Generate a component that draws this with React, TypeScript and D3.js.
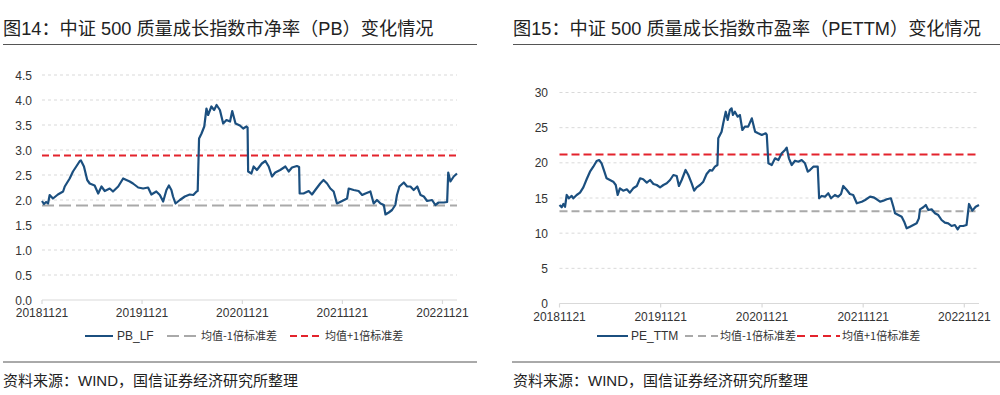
import React from "react";
import * as d3 from "d3";

const pbDates = [
  "2018-11-21","2018-11-28","2018-12-06","2018-12-13","2018-12-19","2018-12-31","2019-01-18","2019-02-06","2019-02-12","2019-03-02",
  "2019-03-14","2019-03-26","2019-04-08","2019-04-12","2019-04-23","2019-05-05","2019-05-14","2019-06-01","2019-06-14","2019-06-26",
  "2019-07-08","2019-07-26","2019-08-07","2019-08-26","2019-09-13","2019-09-25","2019-10-07","2019-10-19","2019-11-07","2019-11-25",
  "2019-12-13","2019-12-25","2020-01-12","2020-01-25","2020-02-06","2020-02-18","2020-02-27","2020-03-07","2020-03-13","2020-03-22",
  "2020-04-07","2020-04-25","2020-05-13","2020-05-26","2020-06-07","2020-06-11","2020-06-16","2020-06-25","2020-07-05","2020-07-13",
  "2020-07-19","2020-07-31","2020-08-10","2020-08-19","2020-08-31","2020-09-12","2020-09-24","2020-10-07","2020-10-15","2020-10-27",
  "2020-11-12","2020-11-24","2020-12-06","2020-12-10","2020-12-12","2020-12-24","2021-01-01","2021-01-13","2021-01-31","2021-02-13",
  "2021-02-25","2021-03-09","2021-03-21","2021-04-08","2021-04-27","2021-05-09","2021-05-21","2021-06-08","2021-06-16","2021-06-18",
  "2021-07-02","2021-07-21","2021-08-02","2021-08-14","2021-09-01","2021-09-13","2021-09-26","2021-10-08","2021-10-20","2021-11-01",
  "2021-11-20","2021-12-08","2021-12-14","2022-01-01","2022-01-19","2022-02-01","2022-02-13","2022-03-03","2022-03-15","2022-03-27",
  "2022-04-09","2022-04-21","2022-04-27","2022-05-09","2022-05-21","2022-06-02","2022-06-08","2022-06-17","2022-07-03","2022-07-15",
  "2022-07-27","2022-08-08","2022-08-21","2022-09-02","2022-09-14","2022-09-26","2022-10-14","2022-10-26","2022-11-07","2022-11-26",
  "2022-12-08","2022-12-12","2022-12-20","2023-01-01","2023-01-13"
];
const pbValues = [
  1.98,1.92,1.96,1.93,2.10,2.03,2.11,2.17,2.27,2.43,
  2.57,2.67,2.78,2.79,2.67,2.40,2.33,2.29,2.13,2.27,
  2.18,2.23,2.17,2.27,2.43,2.40,2.37,2.33,2.25,2.23,
  2.25,2.11,2.17,2.10,1.97,2.20,2.29,2.20,2.07,1.93,
  2.00,2.07,2.11,2.10,2.17,2.18,3.23,3.33,3.47,3.83,
  3.70,3.87,3.80,3.90,3.80,3.53,3.60,3.57,3.78,3.53,
  3.49,3.43,3.47,3.45,2.57,2.53,2.67,2.60,2.73,2.78,
  2.67,2.47,2.55,2.60,2.67,2.57,2.65,2.68,2.66,2.13,
  2.13,2.18,2.11,2.20,2.33,2.40,2.33,2.23,2.17,1.93,
  1.98,2.03,2.23,2.20,2.18,2.10,2.13,2.17,1.93,2.00,
  1.93,1.90,1.71,1.75,1.80,1.90,2.10,2.27,2.35,2.27,
  2.27,2.20,2.27,2.10,2.07,1.98,2.00,1.90,1.95,1.95,
  1.96,2.55,2.37,2.47,2.53
];
const pbUpper = 2.89;
const pbLower = 1.89;

const peDates = [
  "2018-11-21","2018-11-29","2018-12-05","2018-12-11","2018-12-17","2018-12-25","2019-01-04","2019-01-10","2019-01-22","2019-02-03",
  "2019-02-15","2019-02-27","2019-03-11","2019-03-23","2019-04-04","2019-04-13","2019-04-22","2019-05-02","2019-05-10","2019-05-22",
  "2019-06-03","2019-06-12","2019-06-19","2019-06-27","2019-07-09","2019-07-22","2019-08-02","2019-08-14","2019-08-27","2019-09-08",
  "2019-09-19","2019-10-02","2019-10-14","2019-10-26","2019-11-07","2019-11-19","2019-12-01","2019-12-13","2019-12-25","2020-01-06",
  "2020-01-18","2020-01-26","2020-02-05","2020-02-19","2020-02-29","2020-03-12","2020-03-21","2020-03-30","2020-04-11","2020-04-23",
  "2020-05-05","2020-05-17","2020-05-25","2020-06-04","2020-06-13","2020-06-16","2020-06-28","2020-07-04","2020-07-13","2020-07-20",
  "2020-07-28","2020-08-03","2020-08-08","2020-08-15","2020-08-25","2020-09-02","2020-09-11","2020-09-20","2020-10-02","2020-10-15",
  "2020-10-27","2020-11-07","2020-11-20","2020-12-04","2020-12-08","2020-12-14","2020-12-26","2021-01-07","2021-01-19","2021-01-31",
  "2021-02-12","2021-02-18","2021-02-26","2021-03-08","2021-03-20","2021-04-01","2021-04-13","2021-04-25","2021-05-05","2021-05-13",
  "2021-05-25","2021-06-10","2021-06-15","2021-06-24","2021-07-06","2021-07-18","2021-07-28","2021-08-11","2021-08-23","2021-09-02",
  "2021-09-10","2021-09-23","2021-10-04","2021-10-16","2021-10-29","2021-11-16","2021-11-28","2021-12-16","2021-12-28","2022-01-09",
  "2022-01-21","2022-02-02","2022-02-14","2022-03-01","2022-03-10","2022-03-16","2022-03-28","2022-04-09","2022-04-18","2022-04-27",
  "2022-05-09","2022-05-21","2022-06-02","2022-06-10","2022-06-14","2022-06-26","2022-07-05","2022-07-14","2022-07-26","2022-08-07",
  "2022-08-19","2022-08-31","2022-09-12","2022-09-24","2022-10-06","2022-10-18","2022-10-28","2022-11-05","2022-11-17","2022-11-29",
  "2022-12-08","2022-12-20","2023-01-01","2023-01-13"
];
const peValues = [
  14.0,13.68,14.15,13.76,15.43,14.96,15.29,14.96,15.43,15.76,
  16.52,17.66,18.74,19.45,20.26,20.4,19.93,18.74,17.8,17.56,
  17.32,16.85,15.43,16.38,16.04,16.24,15.76,16.38,16.71,17.8,
  17.66,17.18,17.56,16.99,16.85,16.52,16.85,17.09,17.56,18.27,
  18.13,16.71,17.56,18.98,18.27,17.09,16.04,16.52,16.85,17.32,
  18.41,18.98,18.88,19.45,19.69,23.49,24.43,25.62,27.27,26.09,
  27.51,27.75,26.8,27.27,26.56,26.8,24.67,25.14,25.14,26.33,
  24.43,24.2,23.96,24.2,24.0,19.93,19.69,20.64,20.4,21.36,
  21.83,22.15,20.64,19.69,20.3,20.16,20.4,19.93,18.74,18.98,
  19.45,19.45,14.96,15.29,15.19,15.67,14.96,15.43,15.19,15.57,
  16.71,16.14,15.57,15.43,14.25,14.47,14.72,15.19,15.1,14.82,
  14.47,14.62,14.82,14.96,13.76,12.83,12.58,12.34,11.63,10.69,
  10.92,11.16,11.4,12.11,13.39,13.68,14.0,13.29,13.39,12.83,
  12.58,11.87,11.49,11.4,11.02,11.16,10.55,11.02,11.02,11.16,
  14.15,13.2,13.76,14.0
];
const peUpper = 21.2;
const peLower = 13.1;

const xTickLabels = ["20181121", "20191121", "20201121", "20211121", "20221121"];
const pbTicks = [0, 0.5, 1.0, 1.5, 2.0, 2.5, 3.0, 3.5, 4.0, 4.5];
const peTicks = [0, 5, 10, 15, 20, 25, 30];

const titles = [
  "图14：中证 500 质量成长指数市净率（PB）变化情况",
  "图15：中证 500 质量成长指数市盈率（PETTM）变化情况",
];
const seriesNames = ["PB_LF", "PE_TTM"];
const lowerName = "均值-1倍标准差";
const upperName = "均值+1倍标准差";
const sourceText = "资料来源：WIND，国信证券经济研究所整理";

const parse = d3.timeParse("%Y-%m-%d");
const tickParse = d3.timeParse("%Y%m%d");
const domainStart = parse("2018-11-21") as Date;
const domainEnd = parse("2023-01-13") as Date;

const BLUE = "#1b4f7f";
const RED = "#e3232c";
const GRAY = "#a9a9a9";
const GRID = "#d9d9d9";
const FONT = "'Liberation Sans', Arial, 'Noto Sans CJK SC', sans-serif";
const CJK = "'Noto Sans CJK SC', 'Liberation Sans', sans-serif";
const MIX = "'Liberation Sans', 'Noto Sans CJK SC', sans-serif";

type PanelProps = {
  dates: string[];
  values: number[];
  upper: number;
  lower: number;
  ticks: number[];
  tickFmt: (v: number) => string;
  x0: number; x1: number; yTop: number; yBottom: number; yMax: number;
  labelRight: number;
  grayDash: string; redDash: string;
};

function Panel(p: PanelProps) {
  const x = d3.scaleTime().domain([domainStart, domainEnd]).range([p.x0, p.x1]);
  const y = d3.scaleLinear().domain([0, p.yMax]).range([p.yBottom, p.yTop]);
  const pts = p.dates.map((d, i) => [parse(d) as Date, p.values[i]] as [Date, number]);
  const line = d3.line<[Date, number]>().x((d) => x(d[0])).y((d) => y(d[1]));
  return (
    <g>
      {p.ticks.map((t) => (
        <g key={t}>
          {t !== 0 && (
            <line x1={p.x0} x2={p.x1} y1={y(t)} y2={y(t)} stroke={GRID} strokeWidth={1} strokeDasharray="3,3" />
          )}
          <text x={p.labelRight} y={y(t) + 4.5} textAnchor="end" fontSize={12} fill="#333" fontFamily={FONT}>
            {p.tickFmt(t)}
          </text>
        </g>
      ))}
      <line x1={p.x0} x2={p.x1} y1={p.yBottom} y2={p.yBottom} stroke={GRID} strokeWidth={1.2} />
      {xTickLabels.map((s) => {
        const xx = x(tickParse(s) as Date);
        return (
          <g key={s}>
            <line x1={xx} x2={xx} y1={p.yBottom} y2={p.yBottom + 4} stroke={GRID} strokeWidth={1.2} />
            <text x={xx} y={p.yBottom + 17} textAnchor="middle" fontSize={12} fill="#333" fontFamily={FONT}>
              {s}
            </text>
          </g>
        );
      })}
      <line x1={p.x0} x2={p.x1} y1={y(p.lower)} y2={y(p.lower)} stroke={GRAY} strokeWidth={2} strokeDasharray={p.grayDash} />
      <line x1={p.x0} x2={p.x1} y1={y(p.upper)} y2={y(p.upper)} stroke={RED} strokeWidth={2} strokeDasharray={p.redDash} />
      <path d={line(pts) || ""} fill="none" stroke={BLUE} strokeWidth={2.2} strokeLinejoin="round" />
    </g>
  );
}

function Legend(props: { items: { x1: number; x2: number; tx: number; color: string; dash?: string; label: string; cjk?: boolean }[]; y: number }) {
  return (
    <g>
      {props.items.map((it, i) => (
        <g key={i}>
          <line x1={it.x1} x2={it.x2} y1={props.y} y2={props.y} stroke={it.color} strokeWidth={2} strokeDasharray={it.dash} />
          <text x={it.tx} y={props.y + 4} fontSize={it.cjk ? 11 : 12} fill="#333" fontFamily={it.cjk ? CJK : FONT}>
            {it.label}
          </text>
        </g>
      ))}
    </g>
  );
}

export default function App() {
  return (
    <svg width={1000} height={395} style={{ position: "absolute", left: 0, top: 0, background: "#fff" }}>
      <text x={3} y={35} fontSize={18.2} fill="#222" fontFamily={MIX}>{titles[0]}</text>
      <line x1={3} x2={477} y1={44.5} y2={44.5} stroke="#555" strokeWidth={1} />
      <text x={513} y={35} fontSize={18.2} fill="#222" fontFamily={MIX}>{titles[1]}</text>
      <line x1={513} x2={1000} y1={44.5} y2={44.5} stroke="#555" strokeWidth={1} />

      <Panel
        dates={pbDates} values={pbValues} upper={pbUpper} lower={pbLower}
        ticks={pbTicks} tickFmt={(v) => v.toFixed(1)}
        x0={42} x1={457} yTop={75} yBottom={300} yMax={4.5} labelRight={32}
        grayDash="12,5" redDash="7,4"
      />
      <Panel
        dates={peDates} values={peValues} upper={peUpper} lower={peLower}
        ticks={peTicks} tickFmt={(v) => String(v)}
        x0={559.5} x1={979} yTop={92.5} yBottom={303.5} yMax={30} labelRight={548}
        grayDash="8,4" redDash="8,4"
      />

      <Legend
        y={336}
        items={[
          { x1: 85, x2: 113, tx: 117, color: BLUE, label: seriesNames[0] },
          { x1: 167, x2: 199, tx: 201, color: GRAY, dash: "12,5", label: lowerName, cjk: true },
          { x1: 290, x2: 322, tx: 325, color: RED, dash: "7,4", label: upperName, cjk: true },
        ]}
      />
      <Legend
        y={336}
        items={[
          { x1: 597, x2: 628, tx: 631, color: BLUE, label: seriesNames[1] },
          { x1: 685, x2: 718, tx: 720, color: GRAY, dash: "8,5", label: lowerName, cjk: true },
          { x1: 797, x2: 840, tx: 842, color: RED, dash: "8,5", label: upperName, cjk: true },
        ]}
      />

      <line x1={3} x2={477} y1={362} y2={362} stroke="#555" strokeWidth={1} />
      <line x1={512} x2={1000} y1={362} y2={362} stroke="#555" strokeWidth={1} />
      <text x={3} y={386} fontSize={15} fill="#222" fontFamily={MIX}>{sourceText}</text>
      <text x={513} y={386} fontSize={15} fill="#222" fontFamily={MIX}>{sourceText}</text>
    </svg>
  );
}
